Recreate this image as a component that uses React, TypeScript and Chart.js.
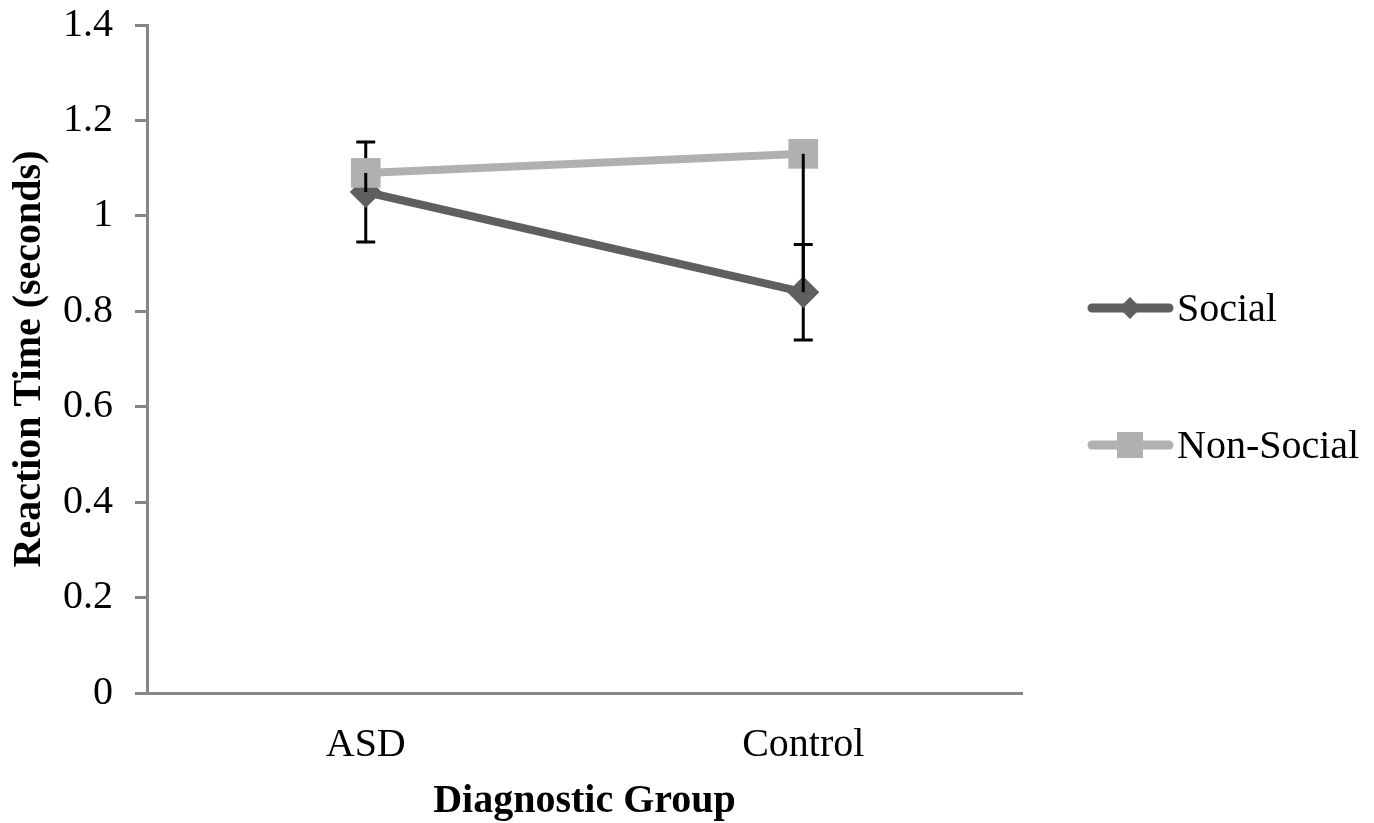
import React, { useEffect, useRef } from "react";
import { Chart, registerables } from "chart.js";

Chart.register(...registerables);

const categories = ["ASD", "Control"];
const socialValues = [1.05, 0.84];
const nonSocialValues = [1.09, 1.13];
const socialErr = [0.105, 0.1];
const nonSocialErrMinus = [0.04, 0.29];
const yTickValues = [0, 0.2, 0.4, 0.6, 0.8, 1, 1.2, 1.4];
const yTickLabels = ["0", "0.2", "0.4", "0.6", "0.8", "1", "1.2", "1.4"];
const seriesNames = ["Social", "Non-Social"];

const SOCIAL_COLOR = "#5f5f5f";
const NONSOCIAL_COLOR = "#b0b0b0";
const AXIS_COLOR = "#878787";
const FONT = "'Liberation Serif', 'Times New Roman', serif";
const FS = 40;

function drawBars(chart: any, dsIndex: number, minus: number[], plus: number[] | null, cap: boolean) {
  const ctx = chart.ctx;
  const x = chart.scales.x;
  const y = chart.scales.y;
  const vals = chart.data.datasets[dsIndex].data as number[];
  ctx.save();
  ctx.strokeStyle = "#000";
  ctx.lineWidth = 3;
  vals.forEach((v, i) => {
    const px = x.getPixelForValue(i);
    const top = y.getPixelForValue(v + (plus ? plus[i] : 0));
    const bot = y.getPixelForValue(v - minus[i]);
    ctx.beginPath();
    ctx.moveTo(px, top);
    ctx.lineTo(px, bot);
    if (cap) {
      if (plus) {
        ctx.moveTo(px - 9.5, top);
        ctx.lineTo(px + 9.5, top);
      }
      ctx.moveTo(px - 9.5, bot);
      ctx.lineTo(px + 9.5, bot);
    }
    ctx.stroke();
  });
  ctx.restore();
}

const errorBarPlugin = {
  id: "errorBars",
  beforeDatasetDraw(chart: any, args: any) {
    if (args.index === 0) drawBars(chart, 0, socialErr, socialErr, true);
  },
  afterDatasetsDraw(chart: any) {
    drawBars(chart, 1, nonSocialErrMinus, null, false);
  },
};

const legendPlugin = {
  id: "customLegend",
  afterDraw(chart: any) {
    const ctx = chart.ctx;
    const items = [
      { name: seriesNames[0], color: SOCIAL_COLOR, shape: "diamond", y: 308 },
      { name: seriesNames[1], color: NONSOCIAL_COLOR, shape: "square", y: 445 },
    ];
    ctx.save();
    items.forEach((it) => {
      ctx.strokeStyle = it.color;
      ctx.lineWidth = 9;
      ctx.lineCap = "round";
      ctx.beginPath();
      ctx.moveTo(1092, it.y);
      ctx.lineTo(1169, it.y);
      ctx.stroke();
      ctx.fillStyle = it.color;
      ctx.beginPath();
      if (it.shape === "diamond") {
        ctx.moveTo(1130, it.y - 11);
        ctx.lineTo(1141, it.y);
        ctx.lineTo(1130, it.y + 11);
        ctx.lineTo(1119, it.y);
        ctx.closePath();
      } else {
        ctx.rect(1117, it.y - 13, 26, 26);
      }
      ctx.fill();
      ctx.fillStyle = "#000";
      ctx.font = `${FS}px ${FONT}`;
      ctx.textBaseline = "alphabetic";
      ctx.textAlign = "left";
      ctx.fillText(it.name, 1177, it.y + 13);
    });
    ctx.restore();
  },
};

export default function App() {
  const ref = useRef<HTMLCanvasElement>(null);
  useEffect(() => {
    if (!ref.current) return;
    const chart = new Chart(ref.current, {
      type: "line",
      data: {
        labels: categories,
        datasets: [
          {
            label: seriesNames[0],
            data: socialValues,
            borderColor: SOCIAL_COLOR,
            backgroundColor: SOCIAL_COLOR,
            borderWidth: 8,
            pointStyle: "rectRot",
            pointRadius: 16,
            pointBorderWidth: 0,
            pointBackgroundColor: SOCIAL_COLOR,
            order: 2,
          },
          {
            label: seriesNames[1],
            data: nonSocialValues,
            borderColor: NONSOCIAL_COLOR,
            backgroundColor: NONSOCIAL_COLOR,
            borderWidth: 8,
            pointStyle: "rect",
            pointRadius: 21,
            pointBorderWidth: 0,
            pointBackgroundColor: NONSOCIAL_COLOR,
            order: 1,
          },
        ],
      },
      options: {
        responsive: false,
        animation: false,
        devicePixelRatio: 1,
        layout: { padding: { left: 0, right: 352, top: 25, bottom: 0 } },
        plugins: { legend: { display: false }, tooltip: { enabled: false } },
        font: { family: FONT },
        scales: {
          x: {
            type: "category",
            offset: true,
            grid: { display: false },
            border: { display: true, color: AXIS_COLOR, width: 3 },
            ticks: { color: "#000", font: { family: FONT, size: FS }, padding: 20 },
            title: {
              display: true,
              text: "Diagnostic Group",
              color: "#000",
              font: { family: FONT, size: FS, weight: "bold", lineHeight: 1 },
              padding: { top: 0, bottom: 1 },
            },
            afterFit: (s: any) => {
              s.height = 130;
              s.paddingLeft = 0;
              s.paddingRight = 0;
            },
          },
          y: {
            min: 0,
            max: 1.4,
            grid: {
              display: true,
              drawOnChartArea: false,
              drawTicks: true,
              tickLength: 12,
              tickWidth: 3,
              tickColor: AXIS_COLOR,
              color: AXIS_COLOR,
            },
            border: { display: true, color: AXIS_COLOR, width: 3 },
            afterBuildTicks: (s: any) => {
              s.ticks = yTickValues.map((v) => ({ value: v }));
            },
            ticks: {
              color: "#000",
              font: { family: FONT, size: FS },
              padding: 22,
              callback: (v: any) => {
                const i = yTickValues.findIndex((t) => Math.abs(t - Number(v)) < 1e-9);
                return i >= 0 ? yTickLabels[i] : "";
              },
            },
            title: {
              display: true,
              text: "Reaction Time (seconds)",
              color: "#000",
              font: { family: FONT, size: FS, weight: "bold", lineHeight: 1 },
              padding: { top: 10, bottom: 0 },
            },
            afterFit: (s: any) => {
              s.width = 147;
              s.paddingTop = 0;
              s.paddingBottom = 0;
            },
          },
        },
      },
      plugins: [errorBarPlugin, legendPlugin],
    } as any);
    return () => chart.destroy();
  }, []);
  return (
    <div style={{ position: "absolute", left: 0, top: 0, width: 1374, height: 823, background: "#fff" }}>
      <canvas ref={ref} width={1374} height={823} style={{ display: "block" }} />
    </div>
  );
}
